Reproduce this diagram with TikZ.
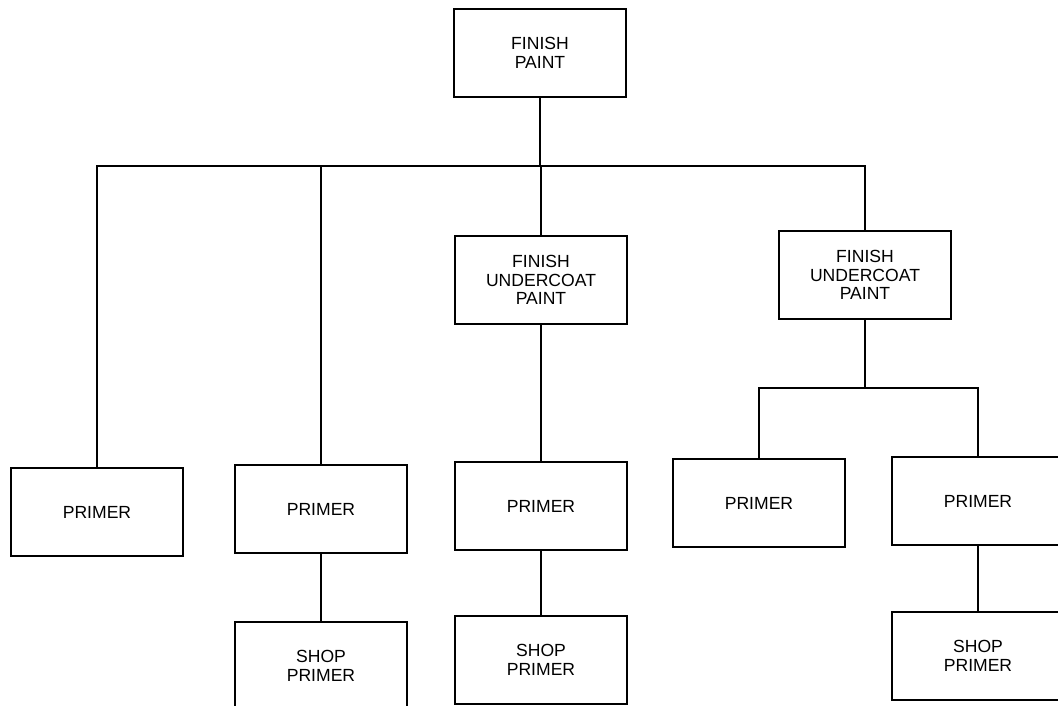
\documentclass[tikz,border=0pt]{standalone}
\usepackage{fontspec}
\setmainfont{Liberation Sans}

\tikzstyle{box}=[draw, rectangle, align=center, inner sep=0pt,
                 minimum width=3.44cm, minimum height=1.76cm,
                 font=\fontsize{10}{10.6}\selectfont]

\begin{document}
\begin{tikzpicture}[x=0.02cm, y=-0.02cm, line width=1pt]
  \useasboundingbox (0, 0) rectangle (1058, 706);

  \draw (540, 53) node[box] (paint) {FINISH\\PAINT};
  \draw (541, 280) node[box] (fu1) {FINISH\\UNDERCOAT\\PAINT};
  \draw (865, 275) node[box] (fu2) {FINISH\\UNDERCOAT\\PAINT};

  \draw (97, 512) node[box] (pr1) {PRIMER};
  \draw (321, 509) node[box] (pr2) {PRIMER};
  \draw (541, 506) node[box] (pr3) {PRIMER};
  \draw (759, 503) node[box] (pr4) {PRIMER};
  \draw (978, 501) node[box] (pr5) {PRIMER};

  \draw (321, 666) node[box] (sh1) {SHOP\\PRIMER};
  \draw (541, 660) node[box] (sh2) {SHOP\\PRIMER};
  \draw (978, 656) node[box] (sh3) {SHOP\\PRIMER};

  \coordinate (busr) at (865, 166);
  \coordinate (bus2) at (865, 388);

  \path[draw] (pr1.north) |- (busr) -- (fu2.north);
  \draw (paint) -- (paint |- busr);
  \draw (pr2) -- (pr2 |- busr);
  \draw (fu1) -- (fu1 |- busr);

  \draw (fu1) -- (pr3);
  \draw (pr2) -- (sh1);
  \draw (pr3) -- (sh2);

  \draw (fu2) -- (bus2);
  \path[draw] (pr4.north) |- (bus2) -| (pr5.north);
  \draw (pr5) -- (sh3);

\end{tikzpicture}
\end{document}
